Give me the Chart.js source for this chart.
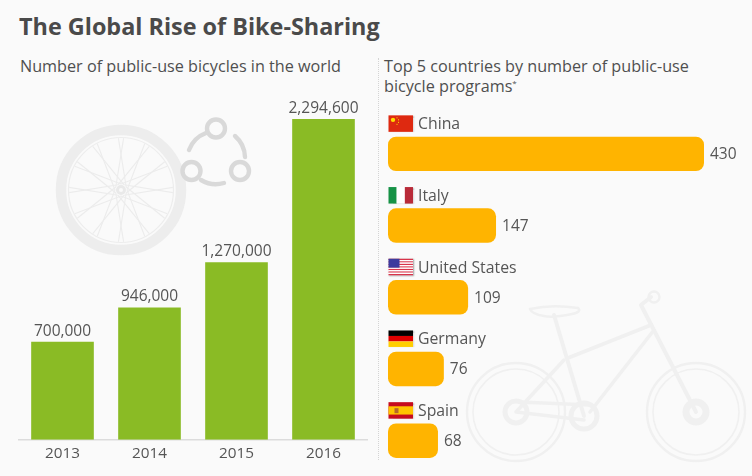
<!DOCTYPE html>
<html>
<head>
<meta charset="utf-8">
<script src="https://cdn.jsdelivr.net/npm/chart.js@4"></script>
<style>
html,body{margin:0;padding:0;width:752px;height:476px;overflow:hidden;background:#fafafa;font-family:"Open Sans",sans-serif;color:#4f4f4f}
.t{position:absolute;white-space:nowrap}
#title{left:19px;top:8px;font-size:23.4px;line-height:36px;font-weight:700;color:#4a4a4a}
#subL{left:20px;top:56px;font-size:16.2px;line-height:21px;font-weight:500}
#subR{left:384px;top:57px;font-size:16.2px;line-height:19.5px;font-weight:500}
#subR sup{font-size:8px;line-height:0}
#divider{position:absolute;left:378px;top:58px;height:402px;border-left:1px dotted #d4d4d4}
svg{position:absolute;left:0;top:0}
canvas{position:absolute}
</style>
</head>
<body>
<svg id="decor" width="752" height="476" viewBox="0 0 752 476" fill="none">
  <g stroke="#ededed">
    <circle cx="121" cy="190" r="60" stroke-width="10.5"/>
    <circle cx="121" cy="190" r="52.5" stroke-width="1.2"/>
    <g id="spokes" stroke-width="1.1" stroke="#ececec"></g>
    <circle cx="121" cy="190" r="3.5" stroke-width="3" stroke="#e9e9e9"/>
  </g>
  <g stroke="#d9d9d9" stroke-width="4.4" stroke-linecap="round">
    <circle cx="216" cy="128.5" r="9"/>
    <circle cx="191.5" cy="171" r="9"/>
    <circle cx="240" cy="171" r="9"/>
    <path d="M189 150A29 29 0 0 1 206 133"/>
    <path d="M235 136A29 29 0 0 1 245 157"/>
    <path d="M201 180A29 29 0 0 0 224 183"/>
  </g>
  <g stroke="#f0f0f0" stroke-width="2.4" stroke-linejoin="round" stroke-linecap="round">
    <circle cx="516" cy="412" r="49"/><circle cx="516" cy="412" r="43" stroke-width="1.6"/>
    <circle cx="696" cy="412" r="49"/><circle cx="696" cy="412" r="43" stroke-width="1.6"/>
    <circle cx="516" cy="412" r="11" stroke-width="5"/>
    <circle cx="696" cy="412" r="10" stroke-width="7"/>
    <circle cx="584" cy="416" r="13" stroke-width="5"/>
    <circle cx="654" cy="297" r="5.5"/>
    <path d="M641 305L651 297M641 305L696 412" stroke-width="4"/>
    <path d="M651 325L568 358M554 315L584 416" stroke-width="4"/>
    <path d="M654 330L590 412M564 360L516 412L584 420M520 402L590 405" stroke-width="3.5"/>
    <path d="M530 309Q552 304 578 308Q582 312 572 314Q552 318 544 316Q532 314 530 309Z" stroke-width="2.5"/>
  </g>
</svg>
<div id="divider"></div>
<div class="t" id="title">The Global Rise of Bike-Sharing</div>
<div class="t" id="subL">Number of public-use bicycles in the world</div>
<div class="t" id="subR">Top 5 countries by number of public-use<br>bicycle programs<sup>*</sup></div>
<canvas id="left" width="376" height="476" style="left:0;top:0;width:376px;height:476px"></canvas>
<canvas id="right" width="432" height="516" style="left:320px;top:0;width:432px;height:516px"></canvas>
<script>
const years = ["2013", "2014", "2015", "2016"];
const bicycles = [700000, 946000, 1270000, 2294600];
const countries = ["China", "Italy", "United States", "Germany", "Spain"];
const programs = [430, 147, 109, 76, 68];

const FONT = '"Open Sans", sans-serif';
const TEXT = '#555555';

// wheel spokes (decoration)
(function () {
  const g = document.getElementById('spokes'), cx = 121, cy = 190;
  let s = '';
  for (let k = 0; k < 12; k++) {
    const b = k * 30 * Math.PI / 180;
    [[-1], [1]].forEach(([d]) => {
      const a1 = b + d * 0.05, a2 = b - d * 1.05;
      s += `<line x1="${cx + 52 * Math.cos(a1)}" y1="${cy + 52 * Math.sin(a1)}" x2="${cx + 6 * Math.cos(a2)}" y2="${cy + 6 * Math.sin(a2)}"/>`;
    });
  }
  g.innerHTML = s;
})();

const valueLabels = {
  id: 'valueLabels',
  afterDatasetsDraw(chart, args, opts) {
    const ctx = chart.ctx, meta = chart.getDatasetMeta(0);
    ctx.save();
    ctx.font = '15.5px ' + FONT;
    ctx.fillStyle = TEXT;
    meta.data.forEach((el, i) => {
      const v = chart.data.datasets[0].data[i];
      const text = v.toLocaleString('en-US');
      if (opts.horizontal) {
        ctx.textAlign = 'left'; ctx.textBaseline = 'middle';
        ctx.fillText(text, el.x + opts.gap, el.y + 1);
      } else {
        ctx.textAlign = 'center'; ctx.textBaseline = 'alphabetic';
        ctx.fillText(text, el.x, el.y - 6);
      }
    });
    ctx.restore();
  }
};

function rect(ctx, c, x, y, w, h) { ctx.fillStyle = c; ctx.fillRect(x, y, w, h); }
const flagPainters = {
  "China"(ctx, x, y, w, h) {
    rect(ctx, '#de2910', x, y, w, h);
    ctx.fillStyle = '#ffde00';
    ctx.beginPath(); ctx.arc(x + 4.5, y + 4.5, 2.2, 0, 7); ctx.fill();
    [[8, 2], [9.5, 4], [9.5, 6.5], [8, 8.5]].forEach(p => rect(ctx, '#ffde00', x + p[0], y + p[1], 1, 1));
  },
  "Italy"(ctx, x, y, w, h) {
    rect(ctx, '#169246', x, y, w / 3, h);
    rect(ctx, '#ffffff', x + w / 3, y, w / 3, h);
    rect(ctx, '#b92b39', x + 2 * w / 3, y, w / 3, h);
  },
  "United States"(ctx, x, y, w, h) {
    const sh = h / 13;
    for (let i = 0; i < 13; i++) rect(ctx, i % 2 ? '#ffffff' : '#d9334a', x, y + i * sh, w, sh);
    rect(ctx, '#3c3b9e', x, y, w * 0.45, sh * 7);
  },
  "Germany"(ctx, x, y, w, h) {
    rect(ctx, '#000000', x, y, w, h / 3);
    rect(ctx, '#dd0000', x, y + h / 3, w, h / 3);
    rect(ctx, '#ffce00', x, y + 2 * h / 3, w, h / 3);
  },
  "Spain"(ctx, x, y, w, h) {
    rect(ctx, '#c60b1e', x, y, w, h);
    rect(ctx, '#ffc400', x, y + h / 4, w, h / 2);
    rect(ctx, '#b5662a', x + 6, y + 6, 4, 5);
  }
};
const flags = {
  id: 'flags',
  afterDatasetsDraw(chart) {
    const ctx = chart.ctx, ys = chart.scales.y, left = chart.chartArea.left;
    countries.forEach((name, i) => {
      const y = ys.getPixelForTick(i) - 38.5, x = left + 0.5, w = 24.5, h = 16.5;
      ctx.save();
      ctx.shadowColor = 'rgba(0,0,0,0.35)'; ctx.shadowBlur = 1.5; ctx.shadowOffsetX = 0.5; ctx.shadowOffsetY = 0.5;
      rect(ctx, '#fff', x, y, w, h);
      ctx.restore();
      flagPainters[name](ctx, x, y, w, h);
    });
  }
};

new Chart(document.getElementById('left'), {
  type: 'bar',
  data: { labels: years, datasets: [{ data: bicycles, backgroundColor: '#8abb25', borderWidth: 0,
    barPercentage: 0.72, categoryPercentage: 1 }] },
  options: {
    responsive: false, animation: false, devicePixelRatio: 1,
    layout: { padding: { left: 19, right: 9, top: 119, bottom: 8 } },
    plugins: { legend: { display: false }, tooltip: { enabled: false }, valueLabels: { horizontal: false } },
    scales: {
      x: { grid: { display: false, drawTicks: false }, border: { display: true, color: '#dcdcdc', width: 1.5 },
        ticks: { color: TEXT, font: { family: FONT, size: 15.3 }, padding: 5, maxRotation: 0 } },
      y: { display: false, min: 0, max: 2294600 }
    }
  },
  plugins: [valueLabels]
});

new Chart(document.getElementById('right'), {
  type: 'bar',
  data: { labels: countries, datasets: [{ data: programs, backgroundColor: '#ffb400', borderWidth: 0,
    borderRadius: 8, borderSkipped: false, barPercentage: 0.48, categoryPercentage: 1 }] },
  options: {
    indexAxis: 'y', responsive: false, animation: false, devicePixelRatio: 1,
    layout: { padding: { left: 8, right: 48, top: 118, bottom: 3 } },
    plugins: { legend: { display: false }, tooltip: { enabled: false }, valueLabels: { horizontal: true, gap: 6 } },
    scales: {
      x: { display: false, min: 0, max: 430 },
      y: { grid: { display: false, drawTicks: false }, border: { display: false },
        ticks: { mirror: true, padding: 30, labelOffset: -29, color: TEXT, autoSkip: false, font: { family: FONT, size: 15.8 } } }
    }
  },
  plugins: [valueLabels, flags]
});
</script>
</body>
</html>
